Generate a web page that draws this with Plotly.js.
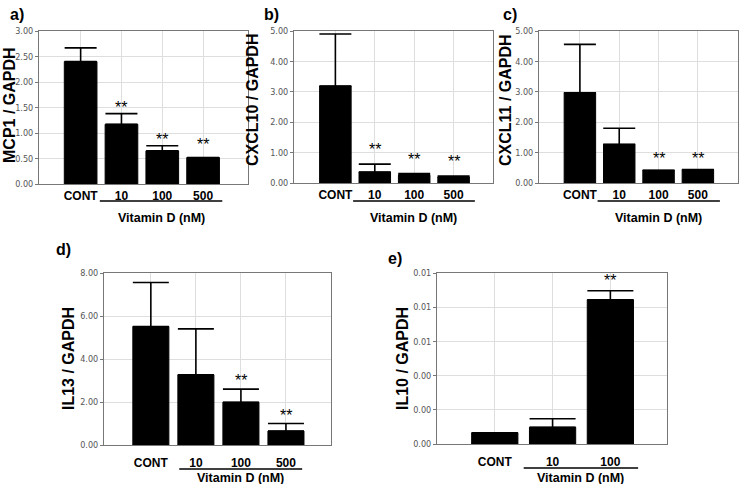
<!DOCTYPE html>
<html>
<head>
<meta charset="utf-8">
<script src="https://cdn.plot.ly/plotly-3.0.1.min.js"></script>
<style>
  html, body { margin: 0; padding: 0; background: #fff; }
  #chart { width: 741px; height: 484px; }
</style>
</head>
<body>
<div id="chart"></div>
<script>
// --- DATA ---
const doseLabels = ['CONT', '10', '100', '500'];
const doseLabelsIL10 = ['CONT', '10', '100'];

const mcp1 = [2.40, 1.17, 0.65, 0.52];
const mcp1Err = [0.27, 0.21, 0.10, 0];
const mcp1Sig = [false, true, true, true];
const mcp1StarAt = [null, null, null, 0.65]; // star floats above the 500 bar

const cxcl10 = [3.19, 0.36, 0.25, 0.20];
const cxcl10Err = [1.71, 0.26, 0.06, 0.03];
const cxcl10Sig = [false, true, true, true];

const cxcl11 = [2.97, 1.27, 0.42, 0.44];
const cxcl11Err = [1.59, 0.53, 0, 0];
const cxcl11Sig = [false, false, true, true];

const il13 = [5.51, 3.27, 1.99, 0.65];
const il13Err = [2.05, 2.13, 0.61, 0.35];
const il13Sig = [false, false, true, true];

const il10 = [0.00066, 0.00098, 0.00844];
const il10Err = [0, 0.0005, 0.00052];
const il10Sig = [false, false, true];

// --- PANELS (layout only) ---
const W = 741, H = 484;
const px = v => v / W;
const py = v => 1 - v / H;

const panels = [
  { key: '', tag: 'a)', title: 'MCP1 / GAPDH', cats: doseLabels, vals: mcp1, err: mcp1Err, sig: mcp1Sig, starAt: mcp1StarAt,
    box: [39, 248, 31, 184], xr: [-1.02, 4.1], yr: [0, 3], dtick: 0.5, cap: 16, standoff: 1,
    line: [0.47, 3.47, 201], vit: 218, titleX: 9, titleY: 105, tagXY: [17, 14], starShift: -4 },
  { key: '2', tag: 'b)', title: 'CXCL10 / GAPDH', cats: doseLabels, vals: cxcl10, err: cxcl10Err, sig: cxcl10Sig,
    box: [294, 493, 31, 183], xr: [-1.05, 4.0], yr: [0, 5], dtick: 1, cap: 16, standoff: 1,
    line: [0.45, 3.54, 201], vit: 218, titleX: 253, titleY: 100, tagXY: [271, 14], starShift: 4 },
  { key: '3', tag: 'c)', title: 'CXCL11 / GAPDH', cats: doseLabels, vals: cxcl11, err: cxcl11Err, sig: cxcl11Sig,
    box: [539, 738, 31, 183], xr: [-1.04, 4.02], yr: [0, 5], dtick: 1, cap: 16, standoff: 1,
    line: [0.45, 3.56, 201], vit: 218, titleX: 506, titleY: 100, tagXY: [510, 14], starShift: 1 },
  { key: '4', tag: 'd)', title: 'IL13 / GAPDH', cats: doseLabels, vals: il13, err: il13Err, sig: il13Sig,
    box: [104, 331, 273, 445], xr: [-1.04, 4.0], yr: [0, 8], dtick: 2, cap: 18, standoff: 7,
    line: [0.63, 3.36, 469], vit: 478, titleX: 68, titleY: 359, tagXY: [63, 249], starShift: -2 },
  { key: '5', tag: 'e)', title: 'IL10 / GAPDH', cats: doseLabelsIL10, vals: il10, err: il10Err, sig: il10Sig,
    box: [437, 667, 273, 444], xr: [-1.0, 2.98], yr: [0, 0.01], dtick: 0.002, cap: 23, standoff: 7,
    line: [0.5, 2.48, 468], vit: 478, titleX: 402, titleY: 359, tagXY: [395, 258], starShift: 0 }
];

const tickFamily = '"Liberation Sans Narrow", "DejaVu Sans Condensed", "Arial Narrow", sans-serif';
const boldFamily = '"Liberation Sans", Arial, sans-serif';

const traces = [];
const layout = {
  width: W, height: H,
  margin: { l: 0, r: 0, t: 0, b: 0 },
  paper_bgcolor: '#fff',
  plot_bgcolor: '#fff',
  showlegend: false,
  bargap: 0.2,
  annotations: [],
  shapes: []
};

panels.forEach(p => {
  const xa = 'x' + p.key, ya = 'y' + p.key;
  const [l, r, t, b] = p.box;

  traces.push({
    type: 'bar',
    x: p.cats,
    y: p.vals,
    xaxis: xa, yaxis: ya,
    marker: { color: '#000', line: { color: '#000', width: 1 } },
    error_y: {
      type: 'data', symmetric: false,
      array: p.err, arrayminus: p.err.map(() => 0),
      color: '#000', thickness: 1.6, width: p.cap
    },
    hoverinfo: 'skip'
  });

  layout['xaxis' + p.key] = {
    domain: [px(l), px(r)],
    anchor: ya,
    type: 'category',
    range: p.xr,
    showgrid: true, gridcolor: '#dedede', gridwidth: 1,
    showline: true, linecolor: '#777', linewidth: 1, mirror: true,
    ticks: '', ticklabelstandoff: p.standoff,
    tickfont: { family: boldFamily, size: 12, color: '#000', weight: 'bold' },
    zeroline: false, fixedrange: true
  };
  layout['yaxis' + p.key] = {
    domain: [py(b), py(t)],
    anchor: xa,
    range: p.yr,
    dtick: p.dtick, tick0: 0,
    tickformat: '.2f',
    showgrid: true, gridcolor: '#dedede', gridwidth: 1,
    showline: true, linecolor: '#777', linewidth: 1, mirror: true,
    ticks: 'outside', ticklen: 3, tickcolor: '#777',
    tickfont: { family: tickFamily, size: 9, color: '#555' },
    zeroline: false, fixedrange: true
  };

  // significance stars (category index, since labels look numeric)
  p.cats.forEach((c, i) => {
    if (!p.sig[i]) return;
    const at = (p.starAt && p.starAt[i] != null) ? p.starAt[i] : p.vals[i] + p.err[i];
    layout.annotations.push({
      xref: xa, yref: ya, x: i, y: at,
      text: '**', showarrow: false, yanchor: 'bottom', yshift: p.starShift,
      font: { family: boldFamily, size: 16, color: '#000' }
    });
  });

  // bracket line under the vitamin D doses
  layout.shapes.push({
    type: 'line', xref: xa, yref: 'paper',
    x0: p.line[0], x1: p.line[1], y0: py(p.line[2]), y1: py(p.line[2]),
    line: { color: '#000', width: 1.5 }
  });
  layout.annotations.push({
    xref: xa, yref: 'paper', x: (p.line[0] + p.line[1]) / 2, y: py(p.vit),
    text: 'Vitamin D (nM)', showarrow: false, yanchor: 'middle',
    font: { family: boldFamily, size: 12.5, color: '#000', weight: 'bold' }
  });

  // y title
  layout.annotations.push({
    xref: 'paper', yref: 'paper', x: px(p.titleX), y: py(p.titleY),
    text: p.title, showarrow: false, textangle: -90,
    xanchor: 'center', yanchor: 'middle',
    font: { family: boldFamily, size: 16, color: '#000', weight: 'bold' }
  });

  // panel tag
  layout.annotations.push({
    xref: 'paper', yref: 'paper', x: px(p.tagXY[0]), y: py(p.tagXY[1]),
    text: p.tag, showarrow: false, xanchor: 'center', yanchor: 'middle',
    font: { family: boldFamily, size: 16, color: '#000', weight: 'bold' }
  });
});

Plotly.newPlot('chart', traces, layout, { displayModeBar: false, staticPlot: true });
</script>
</body>
</html>
